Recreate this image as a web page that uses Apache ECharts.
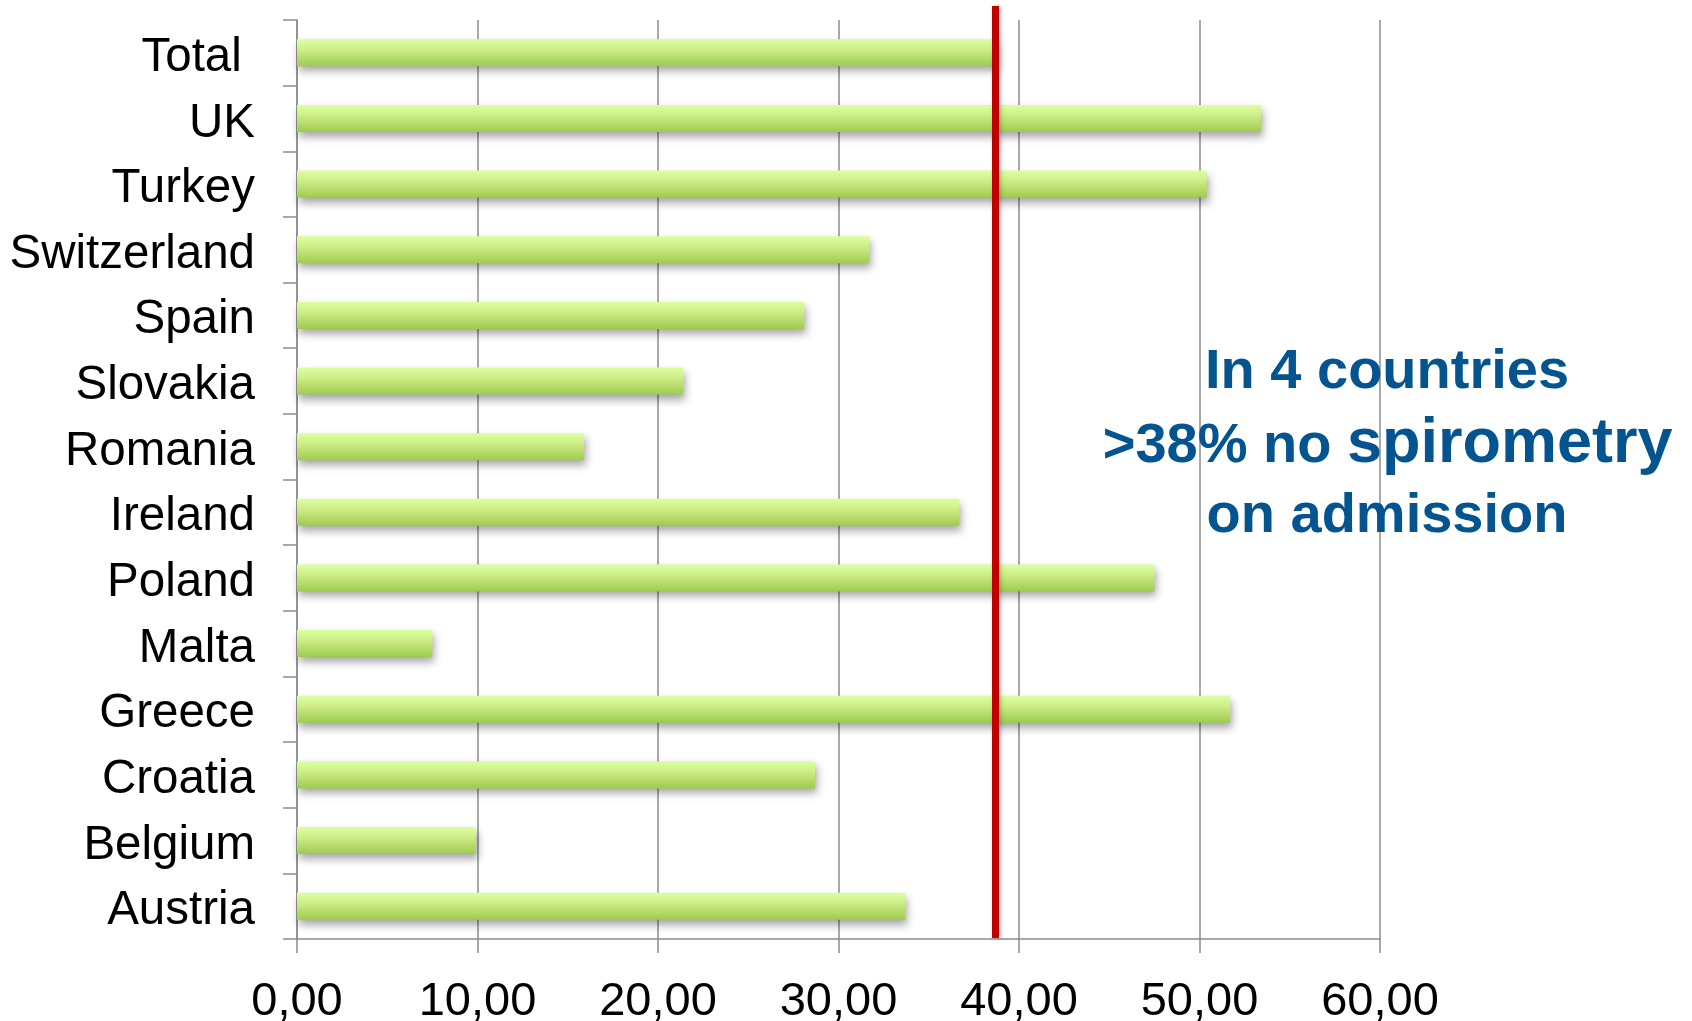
<!DOCTYPE html>
<html>
<head>
<meta charset="utf-8">
<title>No spirometry on admission by country</title>
<script src="https://cdn.jsdelivr.net/npm/echarts@6/dist/echarts.min.js"></script>
<style>
  html, body { margin: 0; padding: 0; background: #ffffff; }
  #chart { width: 1692px; height: 1021px; }
</style>
</head>
<body>
<div id="chart"></div>
<script>
// Countries, listed top to bottom
const countries = ['Total ', 'UK', 'Turkey', 'Switzerland', 'Spain', 'Slovakia', 'Romania',
  'Ireland', 'Poland', 'Malta', 'Greece', 'Croatia', 'Belgium', 'Austria'];

// Share of admissions without spirometry (%)
const noSpirometry = [38.7, 53.4, 50.4, 31.7, 28.1, 21.4, 15.9,
  36.7, 47.5, 7.5, 51.7, 28.7, 9.9, 33.7];

// Overall reference value, drawn as the red vertical line
const totalValue = noSpirometry[0];

// Value axis ticks
const axisMin = 0;
const axisMax = 60;
const axisStep = 10;

const FONT = '"Liberation Sans", Arial, Helvetica, sans-serif';
const GRID_GREY = '#8c8c8c';
const NOTE_BLUE = '#03548f';

const chart = echarts.init(document.getElementById('chart'), null, { renderer: 'canvas' });

chart.setOption({
  animation: false,
  backgroundColor: '#ffffff',
  grid: {
    left: 297,
    right: 312,
    top: 20,
    bottom: 82,
    containLabel: false,
    outerBoundsMode: 'none'
  },
  xAxis: {
    type: 'value',
    min: axisMin,
    max: axisMax,
    interval: axisStep,
    axisLine: { show: true, lineStyle: { color: GRID_GREY, width: 1.5 } },
    axisTick: { show: true, length: 14, lineStyle: { color: GRID_GREY, width: 1.5 } },
    splitLine: { show: true, lineStyle: { color: GRID_GREY, width: 1.5 } },
    axisLabel: {
      margin: 40,
      fontFamily: FONT,
      fontSize: 47,
      color: '#000000',
      formatter: v => v.toFixed(2).replace('.', ',')
    }
  },
  yAxis: {
    type: 'category',
    inverse: true,
    data: countries,
    boundaryGap: true,
    axisLine: { show: true, lineStyle: { color: GRID_GREY, width: 1.5 } },
    axisTick: { show: true, length: 14, alignWithLabel: false, lineStyle: { color: GRID_GREY, width: 1.5 } },
    splitLine: { show: false },
    axisLabel: {
      margin: 42,
      formatter: v => '{c|' + v + '}',
      rich: {
        c: {
          fontFamily: FONT,
          fontSize: 47.5,
          color: '#000000',
          padding: [10, 0, 0, 0]
        }
      }
    }
  },
  series: [{
    type: 'bar',
    data: noSpirometry,
    barWidth: 27,
    clip: false,
    itemStyle: {
      color: new echarts.graphic.LinearGradient(0, 0, 0, 1, [
        { offset: 0, color: '#dcff9f' },
        { offset: 0.35, color: '#cfef8a' },
        { offset: 1, color: '#9fca4f' }
      ]),
      shadowColor: 'rgba(0, 0, 0, 0.35)',
      shadowBlur: 8,
      shadowOffsetX: 2,
      shadowOffsetY: 5
    },
    markLine: {
      silent: true,
      symbol: ['none', 'none'],
      label: { show: false },
      lineStyle: {
        color: '#c00000',
        width: 7,
        type: 'solid',
        shadowColor: 'rgba(0, 0, 0, 0.25)',
        shadowBlur: 4,
        shadowOffsetX: 2
      },
      emphasis: { disabled: true },
      data: [[
        { coord: [totalValue, countries[0]], y: 6 },
        { coord: [totalValue, countries[countries.length - 1]], y: 938 }
      ]]
    }
  }],
  graphic: [
    {
      type: 'text',
      z: 100,
      x: 1387,
      y: 373,
      style: {
        text: 'In 4 countries',
        font: 'bold 56px ' + FONT,
        fill: NOTE_BLUE,
        align: 'center',
        verticalAlign: 'middle'
      }
    },
    {
      type: 'text',
      z: 100,
      x: 1347,
      y: 447,
      style: {
        text: '>38% no ',
        font: 'bold 56px ' + FONT,
        fill: NOTE_BLUE,
        align: 'right',
        verticalAlign: 'middle'
      }
    },
    {
      type: 'text',
      z: 100,
      x: 1347,
      y: 445,
      style: {
        text: 'spirometry',
        font: 'bold 63px ' + FONT,
        fill: NOTE_BLUE,
        align: 'left',
        verticalAlign: 'middle'
      }
    },
    {
      type: 'text',
      z: 100,
      x: 1387,
      y: 517,
      style: {
        text: 'on admission',
        font: 'bold 56px ' + FONT,
        fill: NOTE_BLUE,
        align: 'center',
        verticalAlign: 'middle'
      }
    }
  ]
});
</script>
</body>
</html>
